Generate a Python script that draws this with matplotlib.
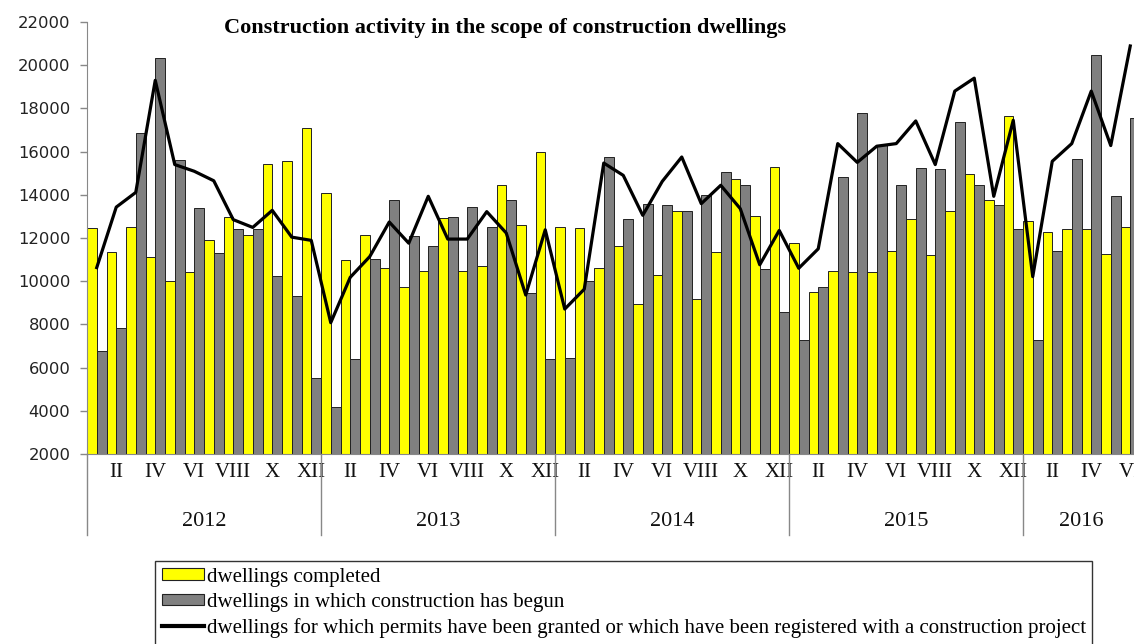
import matplotlib
matplotlib.use("Agg")
import matplotlib.pyplot as plt
import matplotlib.transforms as mtransforms
from matplotlib.patches import Patch
from matplotlib.lines import Line2D
import numpy as np

years = ['2012', '2013', '2014', '2015', '2016']
months_per_year = [12, 12, 12, 12, 6]
month_tick_labels = ['II', 'IV', 'VI', 'VIII', 'X', 'XII']

completed = [
    12450, 11350, 12520, 11100, 10030, 10420, 11920, 12950, 12130, 15440, 15570, 17110,
    14080, 10970, 12150, 10600, 9750, 10460, 12920, 10460, 10710, 14440, 12580, 16000,
    12520, 12460, 10600, 11640, 8930, 10290, 13260, 9160, 11340, 14750, 13010, 15300,
    11760, 9490, 10480, 10420, 10420, 11410, 12890, 11220, 13260, 14950, 13770, 17670,
    12770, 12270, 12410, 12410, 11270, 12530,
]
begun = [
    6780, 7820, 16870, 20330, 15630, 13400, 11300, 12410, 12410, 10250, 9320, 5530,
    4170, 6390, 11050, 13770, 12090, 11610, 12950, 13450, 12520, 13770, 9440, 6390,
    6460, 10030, 15750, 12890, 13590, 13510, 13260, 13990, 15060, 14440, 10560, 8560,
    7260, 9750, 14810, 17800, 16290, 14440, 15240, 15180, 17350, 14440, 13510, 12410,
    7260, 11410, 15680, 20460, 13940, 17560,
]
permits = [
    10630, 13430, 14110, 19300, 15400, 15090, 14650, 12850, 12490, 13280, 12040, 11890,
    8080, 10180, 11140, 12740, 11760, 13930, 11950, 11950, 13220, 12230, 9360, 12380,
    8710, 9630, 15470, 14900, 13050, 14620, 15750, 13590, 14440, 13360, 10760, 12350,
    10600, 11500, 16370, 15500, 16250, 16370, 17420, 15400, 18800, 19400, 13930, 17450,
    10210, 15550, 16370, 18800, 16280, 20890,
]
series_names = [
    'dwellings completed',
    'dwellings in which construction has begun',
    'dwellings for which permits have been granted or which have been registered with a construction project',
]

W, H = 1134, 644
fig = plt.figure(figsize=(W / 100, H / 100), dpi=100)
ax_left, ax_right, ax_top, ax_bottom = 87, 1140, 22, 454
ax = fig.add_axes([ax_left / W, 1 - ax_bottom / H, (ax_right - ax_left) / W, (ax_bottom - ax_top) / H])

n = len(completed)
x = np.arange(n)
bw = 0.5
ax.bar(x - bw / 2, completed, width=bw, bottom=0, color='#FFFF00', edgecolor='#222222', linewidth=0.7, zorder=2)
ax.bar(x + bw / 2, begun, width=bw, bottom=0, color='#808080', edgecolor='#222222', linewidth=0.7, zorder=2)
ax.plot(x, permits, color='black', linewidth=2.3, solid_joinstyle='round', zorder=3)

ax.set_xlim(-0.5, n - 0.5)
ax.set_ylim(2000, 22000)
ax.set_yticks(np.arange(2000, 22001, 2000))
ax.tick_params(axis='y', direction='out', length=5, width=1, color='#888888', pad=7,
               labelsize=11.8, labelcolor='#222222')
for lab in ax.get_yticklabels():
    lab.set_family('DejaVu Sans')

# month ticks
tick_pos = []
tick_lab = []
start = 0
for ny in months_per_year:
    for k in range(1, ny, 2):
        tick_pos.append(start + k)
        tick_lab.append(month_tick_labels[(k - 1) // 2])
    start += ny
ax.set_xticks(tick_pos)
ax.set_xticklabels(tick_lab, family='Liberation Serif', fontsize=15, color='#111111')
ax.tick_params(axis='x', length=0, pad=6.5)

for s in ['top', 'right']:
    ax.spines[s].set_visible(False)
ax.spines['left'].set_color('#888888')
ax.spines['bottom'].set_color('#888888')

# year separators and labels
trans = mtransforms.blended_transform_factory(ax.transData, ax.transAxes)
sep_bottom = -(535 - 454) / (ax_bottom - ax_top)
start = 0
bounds = [-0.5]
for yname, ny in zip(years, months_per_year):
    center = start + ny / 2 - 0.5
    ax.text(center, -(522 - 454) / (ax_bottom - ax_top), yname, transform=trans,
            ha='center', va='center', family='Liberation Serif', fontsize=16, color='#111111')
    start += ny
    bounds.append(start - 0.5)
for b in bounds[:-1]:
    ax.add_line(Line2D([b, b], [0, sep_bottom], transform=trans, color='#888888',
                       linewidth=1, clip_on=False))

# title
fig.text(505 / W, 1 - 28 / H, 'Construction activity in the scope of construction dwellings',
         ha='center', va='center', family='Liberation Serif', fontweight='bold', fontsize=16)

# legend
handles = [
    Patch(facecolor='#FFFF00', edgecolor='#222222', linewidth=0.8),
    Patch(facecolor='#808080', edgecolor='#222222', linewidth=0.8),
    Line2D([0], [0], color='black', linewidth=3),
]
leg = fig.legend(handles, series_names, loc='upper left',
                 bbox_to_anchor=(155 / W, 1 - 637 / H, (1092 - 155) / W, 76 / H),
                 mode='expand', frameon=True, fancybox=False, framealpha=1,
                 edgecolor='#333333', prop={'family': 'Liberation Serif', 'size': 15},
                 handlelength=2.05, handleheight=0.5, handletextpad=0.12,
                 labelspacing=0.3, borderpad=0.32, borderaxespad=0)
leg.get_frame().set_linewidth(1.0)

fig.savefig('out.png', dpi=100)
